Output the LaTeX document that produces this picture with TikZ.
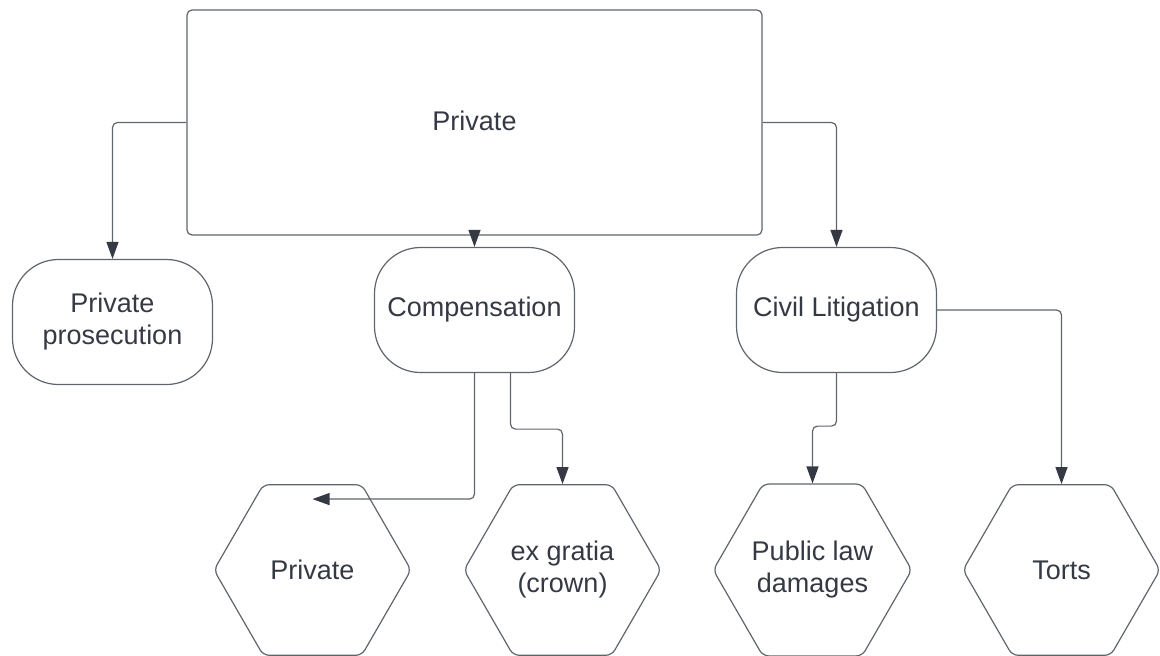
\documentclass[tikz,border=0pt]{standalone}
\usepackage{fontspec}
\setmainfont{Liberation Sans}
\usetikzlibrary{shapes, arrows.meta, positioning}
\definecolor{linegray}{RGB}{96,100,108}
\definecolor{inkgray}{RGB}{52,57,67}

\begin{document}
\begin{tikzpicture}[x=1pt, y=-1pt, line width=1.2pt, text=inkgray,
    font=\fontsize{27pt}{32pt}\selectfont,
    conn/.style={draw=linegray, rounded corners=5pt, -{Triangle[length=17pt, width=12pt, color=inkgray]}},
    bigbox/.style={draw=linegray, rounded corners=5pt, minimum width=575pt, minimum height=225pt},
    pill/.style={draw=linegray, rounded corners=46pt, minimum width=200pt, minimum height=125pt, inner sep=0pt, align=center},
    hexa/.style={draw=linegray, regular polygon, regular polygon sides=6, minimum size=197pt, inner sep=0pt, align=center, rounded corners=6pt}]
    \useasboundingbox (0,0) rectangle (1160,656);

    \node[bigbox] (private) at (474.5,122.5) {\raisebox{4pt}{Private}};
    \node[pill, below of=private, node distance=187.5pt] (compensation) {Compensation};
    \node[pill, right of=compensation, node distance=362pt] (civil) {Civil Litigation};
    \node[pill, left of=compensation, node distance=362pt, yshift=-12pt] (prosecution) {Private\\prosecution};

    \node[hexa] (privhex) at (312.5,570) {Private};
    \node[hexa, right of=privhex, node distance=250pt] (exgratia) {ex gratia\\(crown)};
    \node[hexa, right of=exgratia, node distance=250pt] (publaw) {Public law\\damages};
    \node[hexa, right of=publaw, node distance=249pt] (torts) {Torts};

    \coordinate (privtip) at ([yshift=-15pt]privhex.north);

    \draw[conn] (private.west) -| (prosecution.north);
    \draw[conn] (private.east) -| (civil.north);
    \draw[conn] (private.south) -- (compensation.north);
    \draw[conn] (compensation.south) |- (privtip);
    \draw[conn] ([xshift=36pt]compensation.south) -- ++(0,56) -| (exgratia.north);
    \draw[conn] (civil.south) -- ++(0,53) -| (publaw.north);
    \draw[conn] (civil.east) -| (torts.north);
\end{tikzpicture}
\end{document}
